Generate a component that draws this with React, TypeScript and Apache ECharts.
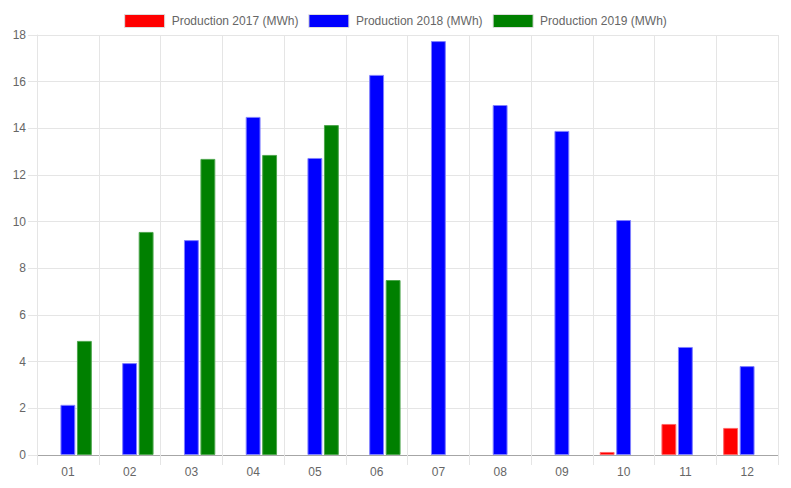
import React, { useEffect, useRef } from "react";
import * as echarts from "echarts";

const months = ["01", "02", "03", "04", "05", "06", "07", "08", "09", "10", "11", "12"];
const prod2017 = [null, null, null, null, null, null, null, null, null, 0.13, 1.33, 1.16];
const prod2018 = [2.15, 3.94, 9.21, 14.49, 12.73, 16.29, 17.74, 15.0, 13.89, 10.07, 4.63, 3.81];
const prod2019 = [4.89, 9.56, 12.69, 12.86, 14.14, 7.5, null, null, null, null, null, null];
const seriesNames = ["Production 2017 (MWh)", "Production 2018 (MWh)", "Production 2019 (MWh)"];
const seriesColors = ["#ff0000", "#0000ff", "#008000"];
const borderColors = ["#ff6666", "#8080ff", "#4da64d"];

export default function App() {
  const ref = useRef<HTMLDivElement>(null);
  useEffect(() => {
    if (!ref.current) return;
    const chart = echarts.init(ref.current, undefined, { renderer: "svg" });
    const data = [prod2017, prod2018, prod2019];
    const font = "Liberation Sans, Arial, Helvetica, sans-serif";
    chart.setOption({
      animation: false,
      textStyle: { fontFamily: font },
      legend: {
        top: 9,
        left: "center",
        itemWidth: 40,
        itemHeight: 13,
        itemGap: 10,
        icon: "rect",
        textStyle: { color: "#666", fontSize: 12, fontFamily: font, padding: [0, 0, 0, 2] },
        data: seriesNames.map((name, i) => ({
          name,
          itemStyle: { color: seriesColors[i], borderColor: "#dddddd", borderWidth: 1 },
        })),
      },
      grid: { left: 37, right: 13, top: 35, bottom: 33, containLabel: false },
      xAxis: {
        type: "category",
        data: months,
        axisLine: { lineStyle: { color: "#a6a6a6", width: 1 } },
        axisTick: { show: true, length: 10, lineStyle: { color: "#e5e5e5" } },
        splitLine: { show: true, lineStyle: { color: "#e5e5e5" } },
        axisLabel: { color: "#666", fontSize: 12, margin: 11, fontFamily: font },
      },
      yAxis: {
        type: "value",
        min: 0,
        max: 18,
        interval: 2,
        axisLine: { show: true, lineStyle: { color: "#e5e5e5" } },
        axisTick: { show: true, length: 9, lineStyle: { color: "#e5e5e5" } },
        splitLine: { show: true, lineStyle: { color: "#e5e5e5" } },
        axisLabel: { color: "#666", fontSize: 12, margin: 11, fontFamily: font },
      },
      series: seriesNames.map((name, i) => ({
        name,
        type: "bar",
        data: data[i],
        barGap: "11%",
        barCategoryGap: "22.5%",
        itemStyle: { color: seriesColors[i], borderColor: borderColors[i], borderWidth: 1 },
      })),
    });
    return () => chart.dispose();
  }, []);
  return (
    <div
      ref={ref}
      style={{ position: "absolute", left: 0, top: 0, width: 791, height: 488 }}
    />
  );
}
